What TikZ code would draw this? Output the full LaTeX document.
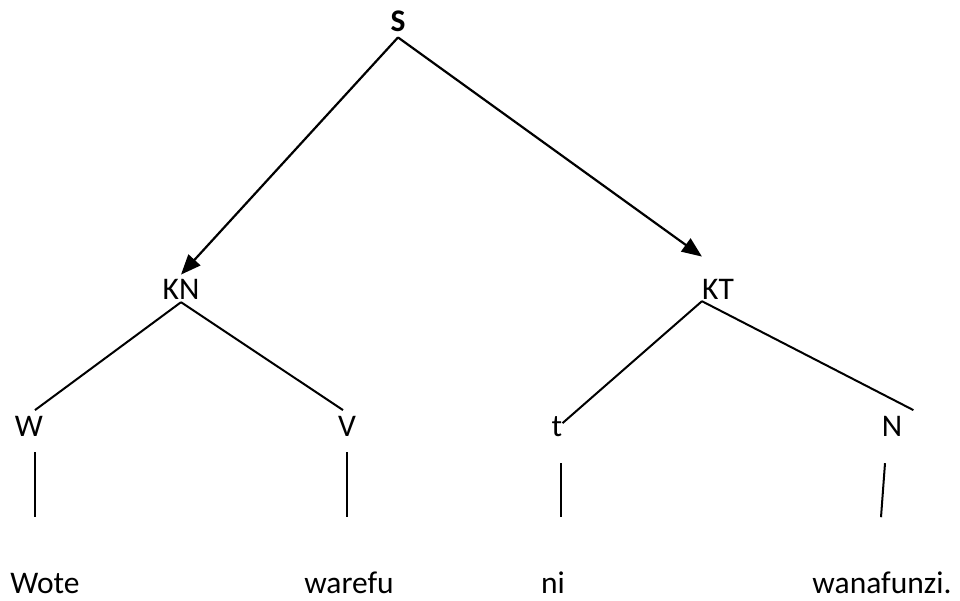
\documentclass[tikz,border=0pt]{standalone}
\usepackage{fontspec}
\setmainfont{Carlito}
\usepackage{tikz}
\usetikzlibrary{arrows.meta,calc}

\tikzset{
  lbl/.style={inner sep=0pt,anchor=base,font=\fontsize{31.5}{36}\selectfont},
  branch/.style={line width=2pt},
  arr/.style={line width=2.2pt,-{Triangle[length=20pt,width=16pt]}}
}

\begin{document}
\begin{tikzpicture}[x=1pt,y=-1pt]
		\useasboundingbox (0,0) rectangle (960,601);
		\node[lbl,font=\fontsize{31.5}{36}\selectfont\bfseries] (S) at (398,32) {S};
		\node[lbl] (KN) at (181,300) {KN};
		\node[lbl] (KT) at (718,300) {KT};
		\node[lbl] (W) at (29,436) {W};
		\node[lbl] (V) at (347,436) {V};
		\node[lbl] (t) at (557,436) {t};
		\node[lbl] (N) at (892,436) {N};
		\node[lbl] (Wote) at (45,593) {Wote};
		\node[lbl] (warefu) at (349,593) {warefu};
		\node[lbl] (ni) at (553,593) {ni};
		\node[lbl] (wanafunzi) at (882,593) {wanafunzi.};
		\draw[arr] ([yshift=-5pt]S.south) -- ([yshift=5pt]KN.north);
		\draw[arr] ([yshift=-5pt]S.south) -- ([yshift=23pt]KT.north west);
		\draw[branch] ([yshift=-2pt]KN.south) -- ([xshift=6pt,yshift=5.5pt]W.north);
		\draw[branch] ([yshift=-2pt]KN.south) -- ([xshift=-4pt,yshift=5.5pt]V.north);
		\draw[branch] ([yshift=-1pt]KT.south west) -- ([yshift=3pt]t.east);
		\draw[branch] ([yshift=-1pt]KT.south west) -- ([xshift=11pt,yshift=5.5pt]N.north east);
		\draw[branch] ($(W.south)+(6,16)$) -- ++(0,65);
		\draw[branch] ($(V.south)+(0,16)$) -- ++(0,65);
		\draw[branch] ($(t.south)+(4,27)$) -- ++(0,54);
		\draw[branch] ($(N.south)+(-7,27)$) -- ++(-4,54);
	\end{tikzpicture}
\end{document}
